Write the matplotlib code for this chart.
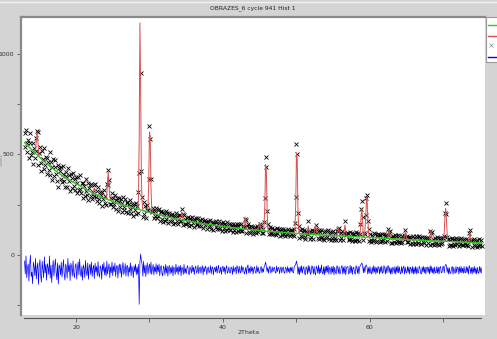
import numpy as np
import matplotlib
matplotlib.use("Agg")
import matplotlib.pyplot as plt
from matplotlib.patches import Rectangle
from matplotlib.lines import Line2D

# ---------------- data ----------------
start_2theta = 13.0
step_2theta = 0.1

# background (counts) on the 0.1 deg grid, 13.0 ... 75.2 (one row per degree)
background = [
    560, 556, 553, 549, 545, 542, 538, 534, 530, 527,
    523, 520, 516, 513, 509, 506, 502, 499, 495, 492,
    488, 485, 481, 478, 475, 472, 468, 465, 462, 458,
    455, 452, 449, 446, 443, 440, 437, 434, 431, 428,
    425, 422, 420, 417, 414, 412, 409, 406, 403, 401,
    398, 396, 393, 391, 389, 387, 384, 382, 380, 377,
    375, 373, 371, 369, 367, 365, 363, 361, 359, 357,
    355, 353, 351, 349, 347, 345, 342, 340, 338, 336,
    334, 332, 330, 328, 326, 324, 322, 320, 318, 316,
    314, 312, 310, 309, 307, 305, 303, 301, 300, 298,
    296, 294, 293, 291, 290, 288, 286, 285, 283, 282,
    280, 279, 277, 276, 274, 273, 272, 270, 269, 267,
    266, 265, 263, 262, 261, 260, 258, 257, 256, 254,
    253, 252, 251, 250, 249, 248, 246, 245, 244, 243,
    242, 241, 240, 239, 238, 237, 236, 235, 234, 233,
    232, 231, 230, 229, 228, 227, 226, 225, 224, 223,
    222, 221, 220, 219, 218, 217, 216, 215, 214, 213,
    212, 211, 210, 209, 208, 207, 206, 205, 204, 203,
    202, 201, 200, 199, 198, 198, 197, 196, 195, 194,
    193, 192, 191, 191, 190, 189, 188, 187, 187, 186,
    185, 184, 183, 183, 182, 181, 180, 179, 179, 178,
    177, 176, 176, 175, 174, 174, 173, 172, 171, 171,
    170, 169, 169, 168, 168, 167, 166, 166, 165, 165,
    164, 163, 163, 162, 162, 161, 160, 160, 159, 159,
    158, 157, 157, 156, 156, 155, 154, 154, 153, 153,
    152, 152, 151, 151, 150, 150, 149, 149, 148, 148,
    147, 147, 146, 146, 145, 145, 144, 144, 143, 143,
    142, 142, 141, 141, 140, 140, 139, 139, 138, 138,
    137, 137, 136, 136, 135, 135, 135, 134, 134, 133,
    133, 133, 132, 132, 131, 131, 131, 130, 130, 129,
    129, 129, 128, 128, 127, 127, 127, 126, 126, 125,
    125, 125, 124, 124, 124, 124, 123, 123, 122, 122,
    122, 122, 121, 121, 121, 121, 120, 120, 119, 119,
    119, 119, 118, 118, 118, 118, 117, 117, 116, 116,
    116, 116, 115, 115, 115, 115, 114, 114, 113, 113,
    113, 113, 112, 112, 112, 112, 111, 111, 110, 110,
    110, 110, 110, 109, 109, 109, 109, 109, 108, 108,
    108, 108, 107, 107, 107, 107, 106, 106, 105, 105,
    105, 105, 105, 104, 104, 104, 104, 104, 103, 103,
    103, 103, 103, 102, 102, 102, 102, 102, 101, 101,
    101, 101, 101, 100, 100, 100, 100, 100, 99, 99,
    99, 99, 99, 98, 98, 98, 98, 98, 97, 97,
    97, 97, 97, 96, 96, 96, 96, 96, 95, 95,
    95, 95, 95, 94, 94, 94, 94, 94, 93, 93,
    93, 93, 93, 92, 92, 92, 92, 92, 91, 91,
    91, 91, 91, 90, 90, 90, 90, 90, 89, 89,
    89, 89, 89, 88, 88, 88, 88, 88, 87, 87,
    87, 87, 87, 86, 86, 86, 86, 86, 85, 85,
    85, 85, 85, 84, 84, 84, 84, 84, 83, 83,
    83, 83, 83, 82, 82, 82, 82, 82, 81, 81,
    81, 81, 81, 80, 80, 80, 80, 80, 79, 79,
    79, 79, 79, 78, 78, 78, 78, 78, 77, 77,
    77, 77, 77, 76, 76, 76, 76, 76, 75, 75,
    75, 75, 75, 74, 74, 74, 74, 74, 73, 73,
    73, 73, 73, 72, 72, 72, 72, 72, 71, 71,
    71, 71, 71, 71, 71, 70, 70, 70, 70, 70,
    70, 70, 70, 69, 69, 69, 69, 69, 68, 68,
    68, 68, 68, 68, 68, 67, 67, 67, 67, 67,
    67, 67, 67, 66, 66, 66, 66, 66, 65, 65,
    65, 65, 65, 65, 65, 64, 64, 64, 64, 64,
    64, 64, 64, 63, 63, 63, 63, 63, 62, 62,
    62, 62, 62, 62, 62, 61, 61, 61, 61, 61,
    61, 60, 60,
]

# Bragg peaks: grid position (2theta) and counts above background
peak_2theta = [14.5, 14.6, 14.7, 14.8, 14.9,
               22.4, 22.5, 22.6,
               24.2, 24.3, 24.4, 24.5, 24.6,
               28.5, 28.6, 28.7, 28.8, 28.9, 29.0,
               29.8, 29.9, 30.0, 30.1, 30.2, 30.3,
               34.3, 34.4, 34.5,
               42.9, 43.0, 43.1,
               44.9, 45.0, 45.1,
               45.6, 45.7, 45.8, 45.9, 46.0, 46.1,
               49.8, 49.9, 50.0, 50.1, 50.2, 50.3,
               51.5, 51.6, 51.7,
               52.5, 52.6, 52.7,
               55.6, 55.7, 55.8,
               56.5, 56.6, 56.7,
               58.7, 58.8, 58.9, 59.0,
               59.3, 59.4, 59.5, 59.6, 59.7, 59.8,
               62.5, 62.6, 62.7,
               64.7, 64.8, 64.9,
               68.2, 68.3, 68.4,
               70.1, 70.2, 70.3, 70.4, 70.5,
               73.5, 73.6, 73.7]
peak_counts = [20, 60, 110, 80, 30,
               15, 30, 15,
               30, 90, 140, 70, 20,
               60, 350, 930, 600, 150, 40,
               30, 150, 400, 380, 130, 30,
               20, 40, 20,
               30, 60, 30,
               20, 40, 20,
               30, 140, 330, 300, 110, 20,
               30, 150, 400, 370, 120, 25,
               20, 40, 20,
               25, 50, 25,
               20, 40, 20,
               30, 55, 30,
               40, 110, 145, 80,
               30, 90, 170, 195, 100, 30,
               25, 45, 25,
               20, 35, 20,
               25, 50, 25,
               40, 120, 165, 110, 35,
               25, 45, 25]

# observed - calculated (counts) on the same grid (one row per degree)
residual = [
    45, -20, 70, -38, 12, 30, -55, 25, 75, -32,
    -10, -68, 40, 18, -28, 58, -45, 10, 36, -72,
    20, 52, -25, -60, 44, 5, -38, 66, -14, 28,
    -50, 32, 14, -22, 70, -40, 24, -62, 8, 48,
    -30, 18, 55, -12, -48, 36, -70, 26, 16, -24,
    40, -35, 10, 52, -20, -50, 30, 12, -40, 58,
    -8, 25, -52, 34, 16, -30, 46, -16, -38, 22,
    32, -45, 8, 40, -24, 55, -14, -34, 18, -50,
    26, 10, -38, 48, -8, -28, 36, -46, 16, 30,
    -22, 40, -32, 6, 24, -42, 34, -10, 18, -30,
    42, -16, -36, 22, 10, -46, 28, -6, 38, -24,
    14, -30, 45, -20, 8, 32, -38, 16, -14, 40,
    -28, 20, -8, 35, -32, 14, 24, -40, 10, 30,
    -16, 28, -36, 8, 38, -22, -6, 32, -30, 16,
    24, -32, 14, -10, 36, -28, 20, 6, -38, 22,
    -8, 30, -24, 16, -20, 28, -170, 40, 80, 45,
    28, -30, 44, -14, 24, -32, 10, 36, -20, 14,
    30, -16, 40, -22, 8, 28, -24, 16, -10, 32,
    -20, 24, -8, 30, -28, 14, 22, -16, -30, 20,
    10, -24, 28, -14, 20, -30, 8, 24, -20, 14,
    -14, 22, -28, 16, 6, -22, 30, -10, 14, -24,
    20, -8, 24, -28, 14, 10, -22, 28, -16, 8,
    -18, 14, 22, -10, -24, 16, 6, -16, 24, -8,
    14, -22, 10, 20, -14, -6, 24, -18, 8, 16,
    -16, 8, 22, -24, 14, -8, 20, 10, -22, 6,
    16, -14, -6, 22, -20, 10, 16, -24, 8, 14,
    -10, 20, -16, 6, 24, -14, -8, 16, -22, 10,
    20, -8, 14, -20, 10, 22, -16, -6, 16, -14,
    -14, 16, 8, -22, 20, -10, 6, 14, -20, 22,
    10, -16, 20, -8, -14, 22, -10, 16, 8, -20,
    -8, 14, -20, 16, 26, -14, 10, -16, 20, -6,
    14, -20, 8, 16, -10, -16, 22, -8, 14, -14,
    -16, 10, 18, -14, 8, -10, 16, 24, 40, 18,
    -8, 14, -16, 10, 20, -14, -6, 16, -10, 8,
    14, -10, -16, 20, -8, 10, 14, -18, 6, 16,
    -14, 8, 16, -10, -16, 14, 8, -14, 18, -8,
    10, -16, 14, -6, 16, -10, -14, 18, 22, 30,
    45, 25, -20, 14, -24, 18, -12, 22, -16, 8,
    18, -14, -24, 16, 10, -20, 24, -12, 18, -22,
    -12, 22, 14, -20, 18, -14, -24, 20, 10, -16,
    24, -20, 12, -14, 26, -10, -20, 16, -24, 18,
    -14, 20, -10, 24, -20, 14, 8, -22, 18, -12,
    20, -24, 14, -10, -20, 22, 12, -16, 18, -20,
    -10, 16, 22, -20, 14, -16, 20, -24, 10, 18,
    16, -20, -12, 24, -14, 18, -22, 12, 14, -16,
    -20, 22, 12, -16, 18, -20, 14, 24, 30, 35,
    22, -14, 18, -12, 20, 26, 14, -20, 12, -16,
    18, -12, -20, 14, -16, 22, -10, 16, -20, 12,
    -14, 18, 12, -20, 16, -12, 20, -16, -10, 22,
    12, -20, 16, -14, 18, 22, -12, 14, -20, 10,
    -20, 14, 10, -16, 18, -20, 16, -12, 22, -14,
    16, -12, -20, 18, -14, 12, 20, -20, 14, -10,
    -14, 18, -12, 16, -20, 14, 10, -16, 18, -20,
    12, -16, 18, -20, 14, -12, -14, 20, 10, -16,
    -20, 16, -10, 18, -14, 14, -20, 12, 16, -12,
    14, -20, 22, -12, 18, -14, 10, -20, 16, -14,
    -12, 18, -16, 14, -20, 12, 18, -14, -10, 16,
    18, -14, 20, 28, 24, -12, 14, -20, 12, -16,
    -16, 12, 18, -20, 14, -10, -16, 18, -12, 14,
    12, -20, 16, -12, 18, -14, 10, -16, 18, -10,
    -14, 18, -12, 14, -20, 22, 14, -16, 12, -20,
    14, -12, 18, -16, 10, -20, 14, -12, -16, 18,
    -12, 14, -14,
]
diff_offset = -75

x_ticks = [20, 40, 60]
y_ticks = [0, 500, 1000]
title = "OBRAZES_6 cycle 941 Hist 1"
x_label = "2Theta"
y_label = "Counts"

# ---------------- build series ----------------
n = min(len(background), len(residual))
bg = np.array(background[:n], dtype=float)
res = np.array(residual[:n], dtype=float)
tth = start_2theta + step_2theta * np.arange(n)
calc = bg.copy()
idx = np.round((np.array(peak_2theta) - start_2theta) / step_2theta).astype(int)
calc[idx] += np.array(peak_counts, dtype=float)
obs = calc + res
diff = res + diff_offset

# ---------------- figure ----------------
W, H = 497, 339
fig = plt.figure(figsize=(W / 100, H / 100), dpi=100)
bgcol = "#d4d4d4"
fig.patch.set_facecolor(bgcol)

def fx(px):
    return px / W

def fy(py):
    return 1 - py / H

ax_l, ax_r, ax_t, ax_b = 21, 485, 17, 315
ax = fig.add_axes([fx(ax_l), fy(ax_b), fx(ax_r - ax_l), (ax_b - ax_t) / H])
ax.set_facecolor("white")

ax.plot(tth, obs, linestyle="none", marker="x", color="black",
        markersize=3.2, markeredgewidth=0.6, zorder=2)
ax.plot(tth, calc, color="#d85050", linewidth=0.7, zorder=3)
ax.plot(tth, bg, color="#22cc22", linewidth=0.9, zorder=4)
ax.plot(tth, diff, color="#0000ff", linewidth=0.5, zorder=3)

ax.set_xlim(12.52, 75.65)
ax.set_ylim(-298.5, 1184)

ax.set_xticks(x_ticks)
ax.set_xticks([30, 50, 70], minor=True)
ax.set_yticks(y_ticks)
ax.set_yticks([-250, 250, 750], minor=True)
ax.tick_params(axis="both", which="both", direction="out", length=3,
               width=0.6, color="#555555", labelsize=4.5, labelcolor="#333333", pad=2)

ax.spines["right"].set_visible(False)
ax.spines["top"].set_color("#8a8a8a")
ax.spines["top"].set_linewidth(1.6)
ax.spines["left"].set_color("#8a8a8a")
ax.spines["left"].set_linewidth(1.6)
ax.spines["bottom"].set_color("#555555")
ax.spines["bottom"].set_linewidth(0.8)
ax.spines["bottom"].set_position(("outward", 2))
ax.spines["bottom"].set_bounds(12.93, 75.1)

fig.text(fx(253), fy(8), title, ha="center", va="center", fontsize=4.3, color="#222222")
fig.text(fx(249), fy(332), x_label, ha="center", va="center", fontsize=4.5, color="#333333")
fig.text(fx(1.6), fy(160), y_label, ha="center", va="center", rotation=90,
         fontsize=2.5, color="#888888")

# top light line
fig.add_artist(Line2D([0, 1], [fy(1.5), fy(1.5)], color="#f2f2f2", linewidth=1.0))

# legend box (cut off at the right edge)
fig.add_artist(Rectangle((fx(486), fy(62)), fx(20), (62 - 17) / H,
                         facecolor="white", edgecolor="#999999", linewidth=0.8))
fig.add_artist(Line2D([fx(488), fx(498)], [fy(25), fy(25)], color="#22cc22", linewidth=1.0))
fig.add_artist(Line2D([fx(488), fx(498)], [fy(36), fy(36)], color="#d85050", linewidth=1.0))
fig.add_artist(Line2D([fx(491)], [fy(45)], marker="x", color="#888888",
                      markersize=2.5, markeredgewidth=0.5, linestyle="none"))
fig.add_artist(Line2D([fx(488), fx(498)], [fy(57), fy(57)], color="#0000ff", linewidth=1.0))

fig.savefig("out.png", dpi=100, facecolor=fig.get_facecolor())
